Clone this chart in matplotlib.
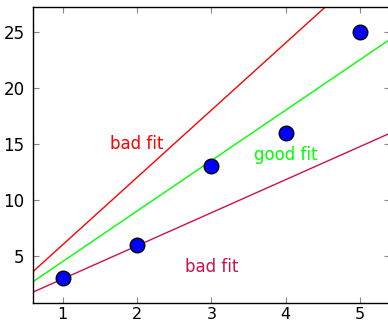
import numpy as np
import matplotlib
matplotlib.use('Agg')
import matplotlib.pyplot as plt

# data points
xs = [1, 2, 3, 4, 5]
ys = [3, 6, 13, 16, 25]

# fit lines y = slope * x
fit_slopes = [6.0, 4.5, 2.95]
fit_colors = ['#ff0000', '#00ff00', '#cc1050']

# annotations
label_texts = ['bad fit', 'good fit', 'bad fit']
label_x = [2.0, 4.0, 3.0]
label_y = [15.0, 14.0, 4.0]

xlim = (0.6, 5.4)
ylim = (0.8, 27.2)

plt.rcParams['font.family'] = 'DejaVu Sans'
fig = plt.figure(figsize=(3.88, 3.25), dpi=100)
ax = fig.add_axes([33 / 388, 1 - 303 / 325, (389.7 - 33) / 388, (303 - 7) / 325])

xx = np.array(xlim)
for slope, col in zip(fit_slopes, fit_colors):
    ax.plot(xx, slope * xx, color=col, linewidth=1.0, zorder=2)

ax.plot(xs, ys, linestyle='none', marker='o', markersize=10.5,
        markerfacecolor='#0000ff', markeredgecolor='black',
        markeredgewidth=1.0, zorder=3)

for t, lx, ly, col in zip(label_texts, label_x, label_y, fit_colors):
    ax.text(lx, ly, t, color=col, fontsize=12, ha='center', va='center')

ax.set_xlim(*xlim)
ax.set_ylim(*ylim)
ax.set_xticks(xs)
ax.set_yticks([5, 10, 15, 20, 25])
ax.tick_params(direction='in', length=4, width=0.8, color='#888888',
               top=True, right=True, labelsize=12)
ax.tick_params(axis='x', pad=3, labelsize=11.5)
ax.tick_params(axis='y', pad=6)
for sp in ax.spines.values():
    sp.set_linewidth(1.0)

fig.savefig('out.png', dpi=100)
